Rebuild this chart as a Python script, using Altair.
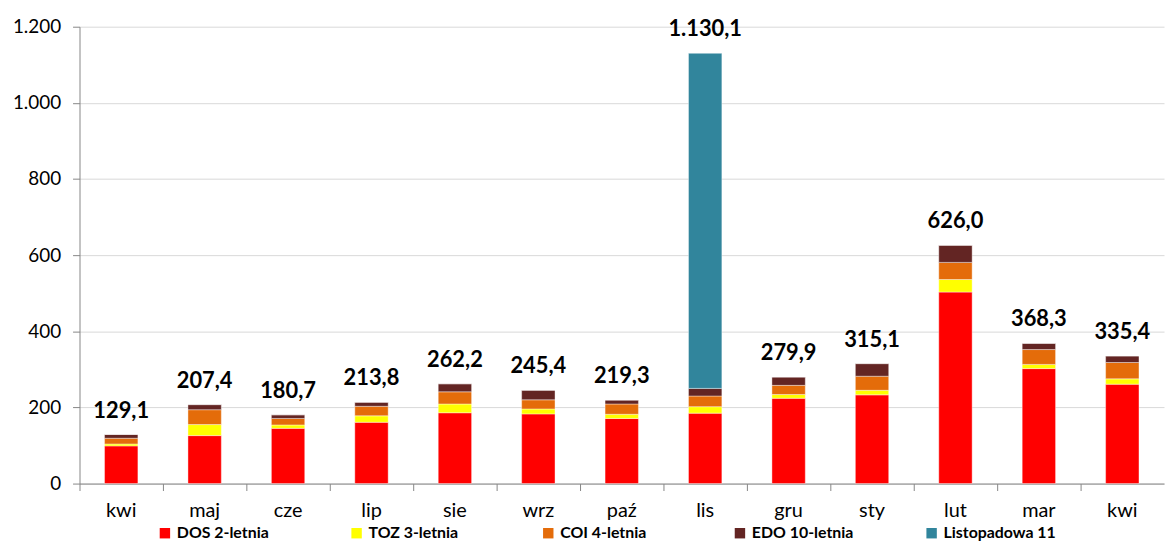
import altair as alt
import pandas as pd

months = ["kwi_1", "maj", "cze", "lip", "sie", "wrz", "paź", "lis", "gru", "sty", "lut", "mar", "kwi_2"]
series = ["DOS 2-letnia", "TOZ 3-letnia", "COI 4-letnia", "EDO 10-letnia", "Listopadowa 11"]
colors = ["#FF0000", "#FFFF00", "#E46C0A", "#632523", "#31859C"]

dos = [99, 126, 145, 161, 186, 183, 171, 185, 224, 233, 503, 302, 261]
toz = [5, 29, 9, 17, 23, 13, 11, 17, 10, 12, 33, 11, 14]
coi = [15, 39, 17, 25, 32, 24, 27, 28, 24, 37, 45, 39, 43]
edo = [10.1, 13.4, 9.7, 10.8, 21.2, 25.4, 10.3, 20, 21.9, 33.1, 45, 16.3, 17.4]
l11 = [0, 0, 0, 0, 0, 0, 0, 880.1, 0, 0, 0, 0, 0]
totals = [129.1, 207.4, 180.7, 213.8, 262.2, 245.4, 219.3, 1130.1, 279.9, 315.1, 626.0, 368.3, 335.4]

rows = []
for si, (name, vals) in enumerate(zip(series, [dos, toz, coi, edo, l11])):
    for m, v in zip(months, vals):
        rows.append({"month": m, "series": name, "value": v, "ord": si})
df = pd.DataFrame(rows)


def pl(v):
    s = f"{v:,.1f}"
    return s.replace(",", " ").replace(".", ",").replace(" ", ".")


tdf = pd.DataFrame({"month": months, "total": totals, "label": [pl(v) for v in totals]})

FONT = "Lato"

x = alt.X(
    "month:N",
    sort=months,
    scale=alt.Scale(paddingInner=0, paddingOuter=0),
    axis=alt.Axis(
        title=None,
        labelExpr="split(datum.label, '_')[0]",
        bandPosition=0,
        labelAngle=0,
        labelFont=FONT,
        labelFontSize=20,
        labelColor="#000000",
        labelPadding=10,
        tickSize=7,
        tickColor="#868686",
        domainColor="#868686",
        grid=False,
    ),
)

y_scale = alt.Scale(domain=[0, 1200], nice=False)

bars = (
    alt.Chart(df)
    .mark_bar(width=alt.RelativeBandSize(0.4), stroke="#FFFFFF", strokeWidth=0.4)
    .encode(
        x=x,
        y=alt.Y(
            "value:Q",
            stack="zero",
            scale=y_scale,
            axis=alt.Axis(
                title=None,
                values=[0, 200, 400, 600, 800, 1000, 1200],
                labelExpr="replace(format(datum.value, ',d'), ',', '.')",
                labelFont=FONT,
                labelFontSize=19,
                labelColor="#000000",
                labelPadding=12,
                tickSize=7,
                tickColor="#868686",
                domainColor="#868686",
                gridColor="#D9D9D9",
                gridWidth=1,
            ),
        ),
        color=alt.Color(
            "series:N",
            sort=series,
            scale=alt.Scale(domain=series, range=colors),
            legend=alt.Legend(
                title=None,
                orient="none",
                direction="horizontal",
                columns=5,
                gridAlign="all",
                columnPadding=59,
                legendX=78,
                legendY=502,
                symbolType="square",
                symbolSize=110,
                symbolStrokeWidth=0,
                labelFont=FONT,
                labelFontSize=16,
                labelFontWeight="bold",
                labelColor="#000000",
                labelOffset=4,
                padding=0,
            ),
        ),
        order=alt.Order("ord:Q"),
    )
)

text = (
    alt.Chart(tdf)
    .mark_text(font=FONT, fontSize=22, fontWeight="bold", color="#000000", dy=-24)
    .encode(x=alt.X("month:N", sort=months), y=alt.Y("total:Q", scale=y_scale), text="label:N")
)

chart = (
    alt.layer(bars, text)
    .properties(
        width=1092,
        height=460,
        autosize=alt.AutoSizeParams(type="none"),
        padding={"left": 72, "top": 17, "right": 2, "bottom": 59},
    )
    .configure_view(stroke=None)
)

chart.save("out.html", embed_options={"renderer": "svg", "actions": False})
